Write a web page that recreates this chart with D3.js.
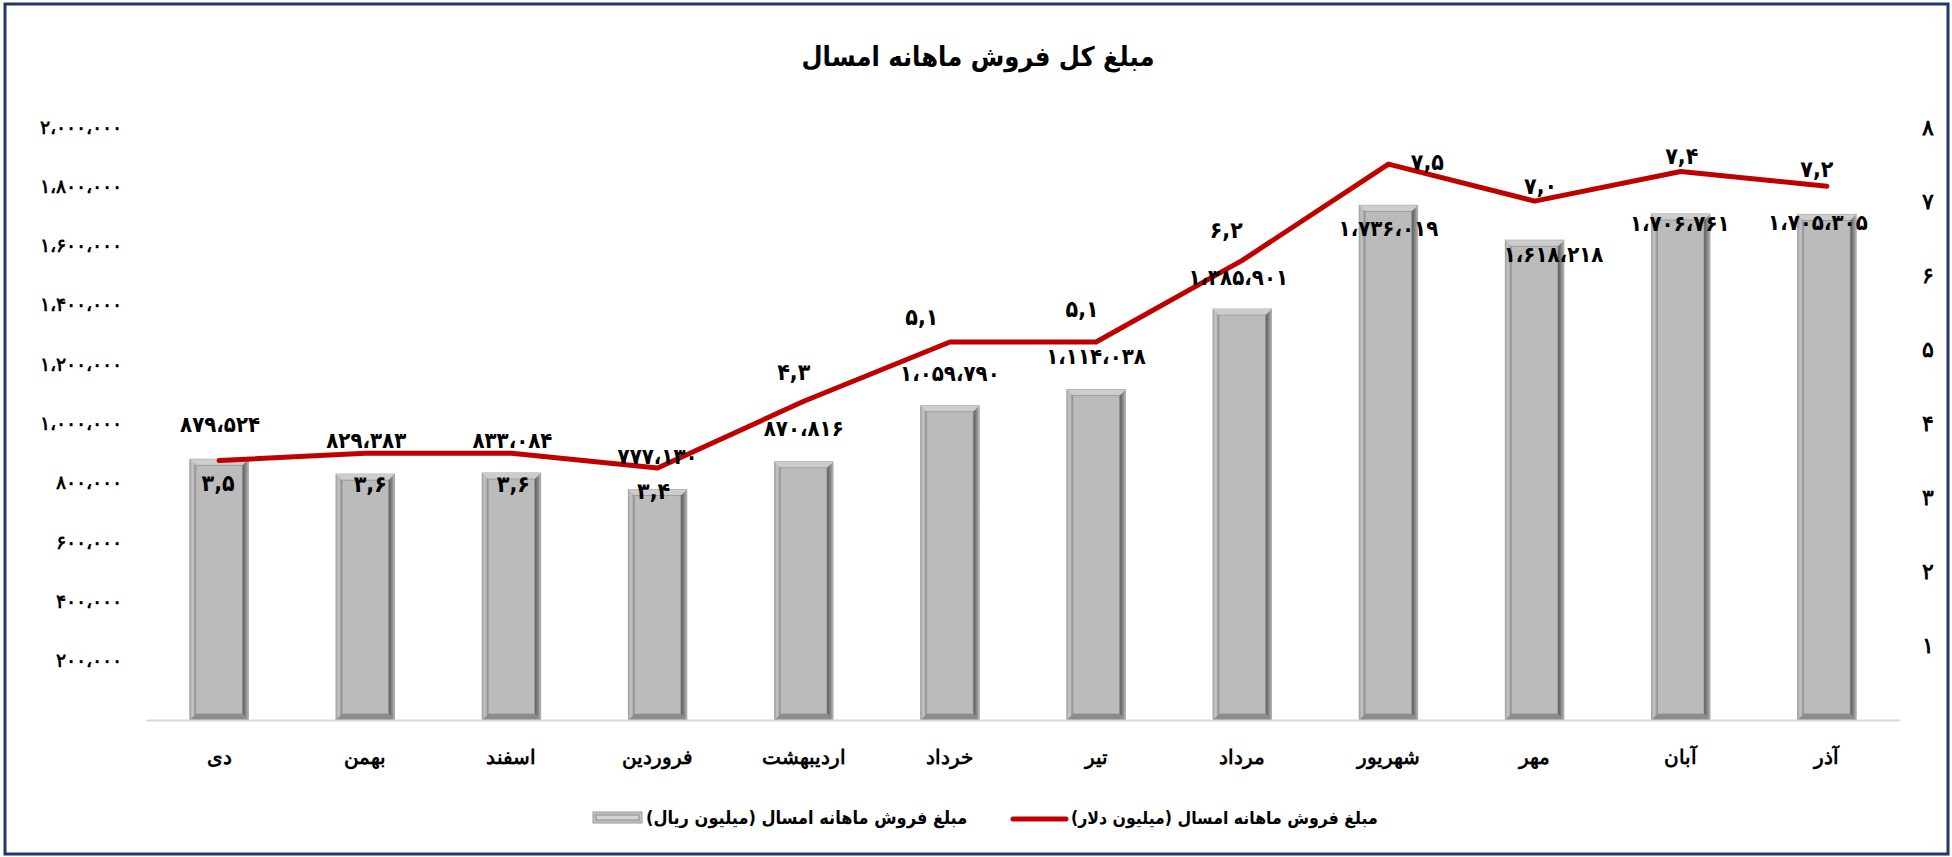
<!DOCTYPE html>
<html lang="fa">
<head>
<meta charset="utf-8">
<title>مبلغ کل فروش ماهانه امسال</title>
<script src="https://cdn.jsdelivr.net/npm/d3@7"></script>
<style>
  html, body { margin: 0; padding: 0; background: #fff; }
  svg { display: block; font-family: "DejaVu Sans Condensed", "DejaVu Sans", sans-serif; }
</style>
</head>
<body>
<div id="chart"></div>
<script>
// Data
const months = ["دی", "بهمن", "اسفند", "فروردین", "اردیبهشت", "خرداد", "تیر", "مرداد", "شهریور", "مهر", "آبان", "آذر"];
const salesRial = [879524, 829383, 833084, 777130, 870816, 1059790, 1114038, 1385901, 1736019, 1618218, 1706761, 1705305];
const salesDollar = [3.5, 3.6, 3.6, 3.4, 4.3, 5.1, 5.1, 6.2, 7.5, 7.0, 7.4, 7.2];
const leftTicks = [200000, 400000, 600000, 800000, 1000000, 1200000, 1400000, 1600000, 1800000, 2000000];
const rightTicks = [1, 2, 3, 4, 5, 6, 7, 8];
const titleText = "مبلغ کل فروش ماهانه امسال";
const barSeriesName = "مبلغ فروش ماهانه امسال (میلیون ریال)";
const lineSeriesName = "مبلغ فروش ماهانه امسال (میلیون دلار)";

// label nudges (dx, dy in px) - the labels were placed by hand in the original
const barLabelNudge = [[1, -35], [1, -34], [1, -33], [0, -34], [0, -34], [0, -33], [0, -34], [-4, -32],
                       [0, 23], [19, 14], [-1, 9], [-9, 8]];
const lineLabelNudge = [[-1, 22], [5, 31], [2, 31], [-4, 23], [-10, -30], [-28, -25], [-14, -33], [-16, -31],
                        [39, -2], [6, -15], [1, -16], [-10, -18]];

const W = 1952, H = 857;

// persian digits and separators
const toFa = s => s.replace(/[0-9]/g, d => "۰۱۲۳۴۵۶۷۸۹"[d]).replace(/,/g, "،");
const fmtThousands = v => toFa(d3.format(",")(v));
const fmtOne = v => toFa(d3.format(".1f")(v)).replace(".", ",");

const svg = d3.select("#chart")
    .append("svg")
    .attr("width", W)
    .attr("height", H);

// gradients for the bevelled bars
const defs = svg.append("defs");
const gradLeft = defs.append("linearGradient").attr("id", "bevelLeft").attr("x1", 0).attr("x2", 1).attr("y1", 0).attr("y2", 0);
gradLeft.append("stop").attr("offset", "0%").attr("stop-color", "#a4a4a4");
gradLeft.append("stop").attr("offset", "45%").attr("stop-color", "#c6c6c6");
gradLeft.append("stop").attr("offset", "100%").attr("stop-color", "#8e8e8e");
const gradRight = defs.append("linearGradient").attr("id", "bevelRight").attr("x1", 0).attr("x2", 1).attr("y1", 0).attr("y2", 0);
gradRight.append("stop").attr("offset", "0%").attr("stop-color", "#5a5a5a");
gradRight.append("stop").attr("offset", "55%").attr("stop-color", "#858585");
gradRight.append("stop").attr("offset", "100%").attr("stop-color", "#b4b4b4");

// frame of the chart
svg.append("rect")
    .attr("x", 5).attr("y", 4)
    .attr("width", 1943).attr("height", 850)
    .attr("fill", "#fff")
    .attr("stroke", "#1f3864")
    .attr("stroke-width", 3);

// title
svg.append("text")
    .attr("x", 978)
    .attr("y", 66)
    .attr("text-anchor", "middle")
    .style("direction", "rtl")
    .style("font-size", "27px")
    .style("font-weight", "bold")
    .text(titleText);

// scales
const x = d3.scaleBand()
    .domain(months)
    .range([146, 1900])
    .paddingInner(0.6)
    .paddingOuter(0.3);

const yL = d3.scaleLinear().domain([0, 2000000]).range([720, 127]);
const yR = d3.scaleLinear().domain([0, 8]).range([720, 127]);

// left axis
const leftAxis = svg.append("g")
    .attr("transform", "translate(122,0)")
    .call(d3.axisLeft(yL).tickValues(leftTicks).tickSize(0).tickPadding(0).tickFormat(fmtThousands));
leftAxis.select(".domain").remove();
leftAxis.selectAll("text")
    .style("font-family", "inherit")
    .style("font-size", "19px")
    .style("font-weight", "bold")
    .style("letter-spacing", "2.5px")
    .attr("fill", "#000");

// right axis
const rightAxis = svg.append("g")
    .attr("transform", "translate(1928,0)")
    .call(d3.axisRight(yR).tickValues(rightTicks).tickSize(0).tickPadding(0).tickFormat(d => toFa(String(d))));
rightAxis.select(".domain").remove();
rightAxis.selectAll("text")
    .attr("text-anchor", "middle")
    .style("font-family", "inherit")
    .style("font-size", "22px")
    .style("font-weight", "bold")
    .attr("fill", "#000");

// bars with a bevelled frame
const bw = x.bandwidth();
const b = 6;
const bars = svg.append("g").selectAll("g")
    .data(months.map((m, i) => ({ m, v: salesRial[i] })))
    .enter()
    .append("g");

bars.append("rect")
    .attr("x", d => x(d.m))
    .attr("y", d => yL(d.v))
    .attr("width", bw)
    .attr("height", d => yL(0) - yL(d.v))
    .attr("fill", "#bababa")
    .attr("stroke", "#a3a3a3")
    .attr("stroke-width", 1);

const framePath = (d, side) => {
    const x0 = x(d.m), x1 = x0 + bw, y0 = yL(d.v), y1 = yL(0);
    if (side === "top") return `M${x0},${y0}L${x1},${y0}L${x1 - b},${y0 + b}L${x0 + b},${y0 + b}Z`;
    if (side === "left") return `M${x0},${y0}L${x0 + b},${y0 + b}L${x0 + b},${y1 - b}L${x0},${y1}Z`;
    if (side === "right") return `M${x1},${y0}L${x1 - b},${y0 + b}L${x1 - b},${y1 - b}L${x1},${y1}Z`;
    return `M${x0},${y1}L${x0 + b},${y1 - b}L${x1 - b},${y1 - b}L${x1},${y1}Z`;
};

bars.append("path").attr("d", d => framePath(d, "left")).attr("fill", "url(#bevelLeft)");
bars.append("path").attr("d", d => framePath(d, "right")).attr("fill", "url(#bevelRight)");
bars.append("path").attr("d", d => framePath(d, "top")).attr("fill", "#cdcdcd");
bars.append("path").attr("d", d => framePath(d, "bottom")).attr("fill", "#8c8c8c");
bars.append("rect")
    .attr("x", d => x(d.m) + b)
    .attr("y", d => yL(d.v) + b)
    .attr("width", bw - 2 * b)
    .attr("height", d => Math.max(0, yL(0) - yL(d.v) - 2 * b))
    .attr("fill", "#bbbbbb")
    .attr("stroke", "#8a8a8a")
    .attr("stroke-width", 0.6);

// x axis
const xAxis = svg.append("g")
    .attr("transform", "translate(0,720)")
    .call(d3.axisBottom(x).tickSize(0).tickPadding(30));
xAxis.select(".domain")
    .attr("stroke", "#d9d9d9")
    .attr("stroke-width", 2);
xAxis.selectAll("text")
    .style("font-family", "inherit")
    .style("font-size", "20px")
    .style("font-weight", "bold")
    .attr("fill", "#000");

// dollar line
const cx = m => x(m) + bw / 2;
const line = d3.line()
    .x((d, i) => cx(months[i]))
    .y(d => yR(d));

svg.append("path")
    .datum(salesDollar)
    .attr("d", line)
    .attr("fill", "none")
    .attr("stroke", "#c00000")
    .attr("stroke-width", 5)
    .attr("stroke-linecap", "round")
    .attr("stroke-linejoin", "round");

// bar labels
svg.append("g").selectAll("text")
    .data(salesRial)
    .enter()
    .append("text")
    .attr("x", (d, i) => cx(months[i]) + barLabelNudge[i][0])
    .attr("y", (d, i) => yL(d) + barLabelNudge[i][1])
    .attr("dy", "0.36em")
    .attr("text-anchor", "middle")
    .style("font-size", "22px")
    .style("font-weight", "bold")
    .style("letter-spacing", "1px")
    .text(fmtThousands);

// line labels
svg.append("g").selectAll("text")
    .data(salesDollar)
    .enter()
    .append("text")
    .attr("x", (d, i) => cx(months[i]) + lineLabelNudge[i][0])
    .attr("y", (d, i) => yR(d) + lineLabelNudge[i][1])
    .attr("dy", "0.36em")
    .attr("text-anchor", "middle")
    .style("font-size", "23px")
    .style("font-weight", "bold")
    .text(fmtOne);

// legend
const legend = svg.append("g");
legend.append("rect")
    .attr("x", 593).attr("y", 812).attr("width", 49).attr("height", 11)
    .attr("fill", "#c2c2c2").attr("stroke", "#999").attr("stroke-width", 1);
legend.append("rect")
    .attr("x", 596).attr("y", 815).attr("width", 43).attr("height", 5)
    .attr("fill", "#d4d4d4").attr("stroke", "#7a7a7a").attr("stroke-width", 0.8);
legend.append("text")
    .attr("x", 646).attr("y", 818).attr("dy", "0.35em")
    .attr("text-anchor", "end")
    .style("direction", "rtl")
    .style("font-size", "18px")
    .style("font-weight", "bold")
    .text(barSeriesName);

legend.append("line")
    .attr("x1", 1013).attr("x2", 1066).attr("y1", 819).attr("y2", 819)
    .attr("stroke", "#c00000").attr("stroke-width", 5).attr("stroke-linecap", "round");
legend.append("text")
    .attr("x", 1071).attr("y", 818).attr("dy", "0.35em")
    .attr("text-anchor", "end")
    .style("direction", "rtl")
    .style("font-size", "17.5px")
    .style("font-weight", "bold")
    .text(lineSeriesName);
</script>
</body>
</html>
